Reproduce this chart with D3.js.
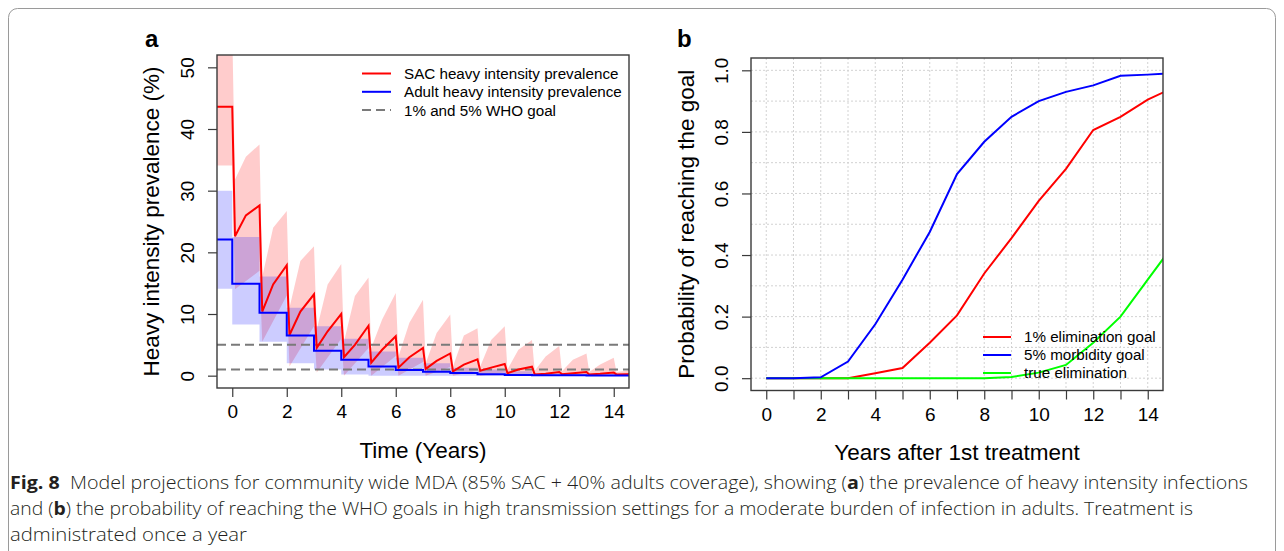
<!DOCTYPE html>
<html>
<head>
<meta charset="utf-8">
<script src="https://cdn.jsdelivr.net/npm/d3@7"></script>
<style>
  body { margin: 0; background: #fff; }
  svg { display: block; font-family: 'Liberation Sans', Arial, sans-serif; }
</style>
</head>
<body>
<svg id="fig" width="1284" height="551"></svg>
<script>
// ---- panel a: heavy intensity prevalence (%) ----
// one entry per treatment round k (year k -> k+1):
// value just after treatment, mid-year, and just before the next round
const sacBaseline = 43.6;
const sacPost = [22.6, 10.4, 6.6, 4.5, 3.0, 2.1, 1.3, 1.1, 0.7, 0.8, 0.4, 0.2, 0.25, 0.2, 0.2];
const sacMid = [26.0, 14.8, 10.4, 7.2, 5.0, 4.2, 3.0, 2.4, 1.8, 1.3, 1.0, 0.3, 0.4, 0.3, 0.25];
const sacPre = [27.6, 17.9, 13.2, 10.0, 8.1, 6.4, 4.5, 3.6, 2.65, 1.9, 1.45, 0.6, 0.6, 0.5, 0.3];

// SAC uncertainty band
const sacHiBaseline = 56;
const sacHiPost = [31.8, 16.0, 11.0, 7.5, 5.5, 4.5, 3.1, 2.0, 1.5, 1.5, 1.0, 0.8, 0.7, 0.6, 0.6];
const sacHiMid = [35.5, 24.0, 18.6, 14.8, 12.9, 9.1, 8.6, 6.9, 6.5, 5.8, 4.2, 3.1, 2.6, 1.8, 0.8];
const sacHiPre = [37.5, 26.7, 21.0, 18.1, 15.9, 13.4, 12.3, 9.9, 7.7, 8.0, 5.8, 4.8, 3.6, 2.9, 0.8];
const sacLoBaseline = 34.1;
const sacLoPost = [14.0, 5.5, 1.5, 0.5, 0, 0, 0, 0, 0, 0, 0, 0, 0, 0, 0];
const sacLoPre = [17.0, 13.0, 8.0, 6.0, 4.5, 3.2, 2.2, 1.4, 0.8, 0.5, 0.3, 0.2, 0.1, 0.1, 0.1];

// adults: roughly flat within each year
const adultBaseline = 22.1;
const adultMean = [14.9, 10.2, 6.5, 4.05, 2.6, 1.5, 0.9, 0.65, 0.42, 0.25, 0.1, 0.05, 0.05, 0.03, 0.03];
const adultHiBaseline = 30.0;
const adultHi = [22.5, 16.1, 11.0, 8.0, 6.0, 3.9, 2.9, 2.0, 1.3, 1.0, 0.7, 0.4, 0.3, 0.3, 0.25];
const adultLoBaseline = 14.1;
const adultLo = [8.3, 5.5, 2.0, 1.0, 0.2, 0, 0, 0, 0, 0, 0, 0, 0, 0, 0];

const whoGoals = [5, 1];
const aYTicks = [0, 10, 20, 30, 40, 50];
const aXTicks = [0, 2, 4, 6, 8, 10, 12, 14];

// ---- panel b: probability of reaching the goal ----
const bYears = [0, 1, 2, 3, 4, 5, 6, 7, 8, 9, 10, 11, 12, 13, 14, 15];
const pElim1 = [0, 0, 0, 0, 0.016, 0.033, 0.115, 0.204, 0.34, 0.455, 0.576, 0.68, 0.806, 0.849, 0.905, 0.946];
const pMorb5 = [0, 0, 0.003, 0.054, 0.175, 0.32, 0.475, 0.663, 0.768, 0.849, 0.90, 0.93, 0.951, 0.982, 0.986, 0.991];
const pTrue = [0, 0, 0, 0, 0, 0, 0, 0, 0, 0.004, 0.018, 0.043, 0.115, 0.2, 0.32, 0.44];
const bXTicks = [0, 1, 2, 3, 4, 5, 6, 7, 8, 9, 10, 11, 12, 13, 14];
const bYTicks = [0, 0.2, 0.4, 0.6, 0.8, 1.0];
const bGridY = [0, 0.1, 0.2, 0.3, 0.4, 0.5, 0.6, 0.7, 0.8, 0.9, 1.0];

const svg = d3.select('#fig');
svg.append('rect').attr('width', 1284).attr('height', 551).attr('fill', '#fff');

// outer frame of the figure
svg.append('rect')
  .attr('x', 8.5).attr('y', 8.5).attr('width', 1267).attr('height', 570)
  .attr('rx', 9).attr('fill', 'none').attr('stroke', '#9a9a9a').attr('stroke-width', 1);

const boxColor = '#3a3a3a';
const tickFont = 19;
const titleFont = 22.5;

function sawPoints(base, post, mid, pre) {
  const pts = [{t: -1, v: base}, {t: 0, v: base}];
  post.forEach((p, k) => {
    pts.push({t: k + 0.1, v: p});
    if (mid) pts.push({t: k + 0.5, v: mid[k]});
    pts.push({t: k + 1, v: pre[k]});
  });
  return pts;
}

function drawBox(g, x0, y0, x1, y1) {
  g.append('rect')
    .attr('x', x0).attr('y', y0).attr('width', x1 - x0).attr('height', y1 - y0)
    .attr('fill', 'none').attr('stroke', boxColor).attr('stroke-width', 1.4);
}

function styleAxis(sel) {
  sel.select('.domain').remove();
  sel.selectAll('line').attr('stroke', boxColor).attr('stroke-width', 1.2);
  sel.selectAll('text').attr('font-size', tickFont).attr('fill', '#000')
    .attr('font-family', "'Liberation Sans', Arial, sans-serif");
}

function rotateYLabels(sel, off) {
  sel.selectAll('text')
    .attr('transform', 'rotate(-90)')
    .attr('x', 0).attr('y', -off).attr('dy', 0)
    .attr('text-anchor', 'middle');
}

// ================= panel a =================
(function panelA() {
  const L = 217, R = 629, T = 55, B = 388;
  const x = d3.scaleLinear().domain([-0.56, 14.56]).range([L, R]);
  const y = d3.scaleLinear().domain([-2, 52]).range([B, T]);
  const g = svg.append('g');

  g.append('clipPath').attr('id', 'clipA')
    .append('rect').attr('x', L).attr('y', T).attr('width', R - L).attr('height', B - T);
  const plot = g.append('g').attr('clip-path', 'url(#clipA)');

  const line = d3.line().x(d => x(d.t)).y(d => y(d.v));

  // SAC band
  const hi = sawPoints(sacHiBaseline, sacHiPost, sacHiMid, sacHiPre);
  const lo = sawPoints(sacLoBaseline, sacLoPost, null, sacLoPre);
  plot.append('path')
    .attr('d', line(hi.concat(lo.slice().reverse())) + 'Z')
    .attr('fill', 'rgba(255,0,0,0.2)');

  // adult band (steps)
  const adultBand = [{t: -1, lo: adultLoBaseline, hi: adultHiBaseline}];
  adultMean.forEach((m, k) => adultBand.push({t: k, lo: adultLo[k], hi: adultHi[k]}));
  adultBand.push({t: 15, lo: adultLo[adultLo.length - 1], hi: adultHi[adultHi.length - 1]});
  plot.append('path')
    .attr('d', d3.area().curve(d3.curveStepAfter)
      .x(d => x(d.t)).y0(d => y(d.lo)).y1(d => y(d.hi))(adultBand))
    .attr('fill', 'rgba(0,0,255,0.2)');

  // WHO goals
  plot.selectAll('line.goal').data(whoGoals).join('line')
    .attr('class', 'goal')
    .attr('x1', L).attr('x2', R)
    .attr('y1', d => y(d)).attr('y2', d => y(d))
    .attr('stroke', '#7a7a7a').attr('stroke-width', 2).attr('stroke-dasharray', '9,5');

  // SAC mean
  plot.append('path')
    .attr('d', line(sawPoints(sacBaseline, sacPost, sacMid, sacPre)))
    .attr('fill', 'none').attr('stroke', '#ff0000').attr('stroke-width', 2);

  // adult mean
  const adultPts = [{t: -1, v: adultBaseline}];
  adultMean.forEach((m, k) => adultPts.push({t: k, v: m}));
  adultPts.push({t: 15, v: adultMean[adultMean.length - 1]});
  plot.append('path')
    .attr('d', d3.line().curve(d3.curveStepAfter).x(d => x(d.t)).y(d => y(d.v))(adultPts))
    .attr('fill', 'none').attr('stroke', '#0000ff').attr('stroke-width', 2);

  drawBox(g, L, T, R, B);

  g.append('g').attr('transform', `translate(0,${B})`)
    .call(d3.axisBottom(x).tickValues(aXTicks).tickSize(9).tickPadding(8))
    .call(styleAxis);
  g.append('g').attr('transform', `translate(${L},0)`)
    .call(d3.axisLeft(y).tickValues(aYTicks).tickSize(9))
    .call(styleAxis)
    .call(s => rotateYLabels(s, 23));

  g.append('text').attr('x', (L + R) / 2).attr('y', 458)
    .attr('text-anchor', 'middle').attr('font-size', titleFont).text('Time (Years)');
  g.append('text').attr('transform', `translate(159,${(T + B) / 2}) rotate(-90)`)
    .attr('text-anchor', 'middle').attr('font-size', titleFont)
    .text('Heavy intensity prevalence (%)');
  g.append('text').attr('x', 145).attr('y', 47)
    .attr('font-size', 24).attr('font-weight', 'bold').text('a');

  // legend
  const leg = [
    {label: 'SAC heavy intensity prevalence', color: '#ff0000', dash: null},
    {label: 'Adult heavy intensity prevalence', color: '#0000ff', dash: null},
    {label: '1% and 5% WHO goal', color: '#7a7a7a', dash: '9,5'}
  ];
  const lg = g.selectAll('g.leg').data(leg).join('g')
    .attr('transform', (d, i) => `translate(0,${73.5 + i * 18.3})`);
  lg.append('line').attr('x1', 362).attr('x2', 391)
    .attr('stroke', d => d.color).attr('stroke-width', 2)
    .attr('stroke-dasharray', d => d.dash);
  lg.append('text').attr('x', 404).attr('dy', '0.36em')
    .attr('font-size', 15.2).text(d => d.label);
})();

// ================= panel b =================
(function panelB() {
  const L = 751, R = 1163, T = 58, B = 390.5;
  const x = d3.scaleLinear().domain([-0.56, 14.56]).range([L, R]);
  const y = d3.scaleLinear().domain([-0.04, 1.04]).range([B, T]);
  const g = svg.append('g');

  g.append('clipPath').attr('id', 'clipB')
    .append('rect').attr('x', L).attr('y', T).attr('width', R - L).attr('height', B - T);
  const plot = g.append('g').attr('clip-path', 'url(#clipB)');

  // grid
  plot.selectAll('line.gx').data(bXTicks).join('line')
    .attr('x1', d => x(d)).attr('x2', d => x(d)).attr('y1', T).attr('y2', B)
    .attr('stroke', '#d2d2d2').attr('stroke-width', 1).attr('stroke-dasharray', '2,2');
  plot.selectAll('line.gy').data(bGridY).join('line')
    .attr('y1', d => y(d)).attr('y2', d => y(d)).attr('x1', L).attr('x2', R)
    .attr('stroke', '#d2d2d2').attr('stroke-width', 1).attr('stroke-dasharray', '2,2');

  const series = [
    {name: '1% elimination goal', color: '#ff0000', values: pElim1},
    {name: 'true elimination', color: '#00ff00', values: pTrue},
    {name: '5% morbidity goal', color: '#0000ff', values: pMorb5}
  ];
  const line = d3.line().x((d, i) => x(bYears[i])).y(d => y(d));
  plot.selectAll('path.s').data(series).join('path')
    .attr('d', d => line(d.values))
    .attr('fill', 'none').attr('stroke', d => d.color).attr('stroke-width', 2);

  drawBox(g, L, T, R, B);

  g.append('g').attr('transform', `translate(0,${B})`)
    .call(d3.axisBottom(x).tickValues(bXTicks).tickSize(9).tickPadding(8)
      .tickFormat(d => d % 2 ? '' : d))
    .call(styleAxis);
  g.append('g').attr('transform', `translate(${L},0)`)
    .call(d3.axisLeft(y).tickValues(bYTicks).tickSize(9).tickFormat(d3.format('.1f')))
    .call(styleAxis)
    .call(s => rotateYLabels(s, 23));

  g.append('text').attr('x', (L + R) / 2).attr('y', 460)
    .attr('text-anchor', 'middle').attr('font-size', titleFont).text('Years after 1st treatment');
  g.append('text').attr('transform', `translate(694,${(T + B) / 2}) rotate(-90)`)
    .attr('text-anchor', 'middle').attr('font-size', titleFont)
    .text('Probability of reaching the goal');
  g.append('text').attr('x', 677).attr('y', 47)
    .attr('font-size', 24).attr('font-weight', 'bold').text('b');

  const leg = [series[0], series[2], series[1]];
  const lg = g.selectAll('g.leg').data(leg).join('g')
    .attr('transform', (d, i) => `translate(0,${337 + i * 18})`);
  lg.append('line').attr('x1', 983).attr('x2', 1011)
    .attr('stroke', d => d.color).attr('stroke-width', 2);
  lg.append('text').attr('x', 1024).attr('dy', '0.36em')
    .attr('font-size', 15.2).text(d => d.name);
})();

// ================= caption =================
const capLines = [
  {y: 489, len: 1238, parts: [['Fig. 8', true], ['\u00a0 Model projections for community wide MDA (85% SAC + 40% adults coverage), showing (', false], ['a', true], [') the prevalence of heavy intensity infections', false]]},
  {y: 515, len: 1183, parts: [['and (', false], ['b', true], [') the probability of reaching the WHO goals in high transmission settings for a moderate burden of infection in adults. Treatment is', false]]},
  {y: 541, len: 237, parts: [['administrated once a year', false]]}
];
const cap = svg.append('g').attr('font-family', "'Open Sans', 'Noto Sans', sans-serif")
  .attr('font-size', 17.5).attr('fill', '#231f20');
capLines.forEach(l => {
  const t = cap.append('text').attr('x', 10).attr('y', l.y)
    .attr('textLength', l.len).attr('lengthAdjust', 'spacingAndGlyphs');
  l.parts.forEach(p => {
    t.append('tspan').attr('font-weight', p[1] ? 'bold' : 300).text(p[0]);
  });
});
</script>
</body>
</html>
